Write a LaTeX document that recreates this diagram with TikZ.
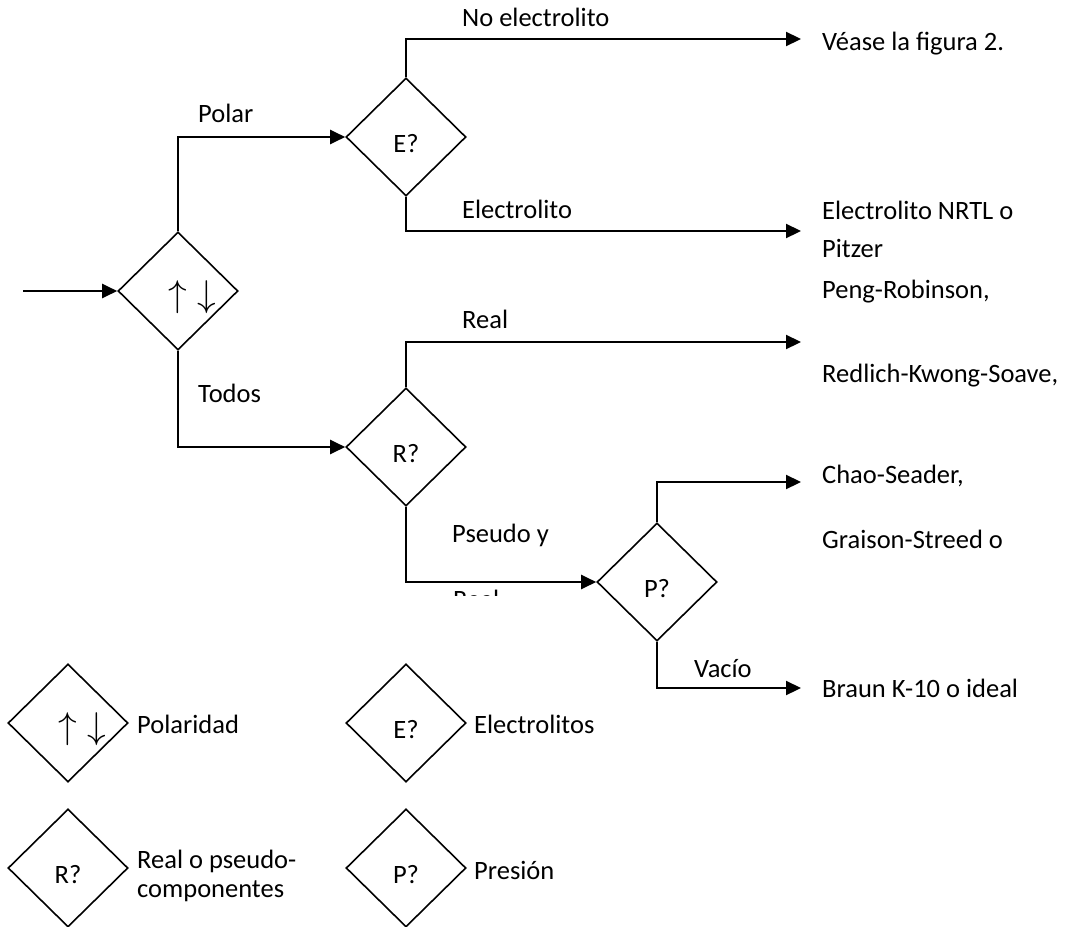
\documentclass[tikz,border=0pt]{standalone}
\usepackage{fontspec}
\setmainfont{Carlito}
\usetikzlibrary{shapes.geometric,arrows.meta}
\tikzset{
  dec/.style={diamond,draw,line width=1.6pt,minimum width=120pt,minimum height=118pt,inner sep=0pt},
  flow/.style={line width=2.2pt,-{Triangle[length=15pt,width=14pt]}},
  txt/.style={anchor=base west,inner sep=0pt},
  sym/.style={label={[xshift=14pt,yshift=-6pt]center:\scalebox{1.5}{$\uparrow\;\downarrow$}}},
  ask/.style={label={[yshift=-7pt]center:#1}}
}
\begin{document}
\begin{tikzpicture}[x=1pt,y=-1pt,font=\fontsize{26.5}{31}\selectfont]
\clip (0,0) rectangle (1065,926);
% decisiones
\node[dec,sym] (pol) at (178,291) {};
\node[dec,ask=E?] (elec) at (406,137) {};
\node[dec,ask=R?] (real) at (406,447) {};
\node[dec,ask=P?] (pres) at (657,582) {};
% extremos de las flechas
\coordinate (in) at (23,291);
\coordinate (e1) at (801,39);
\coordinate (e2) at (801,231);
\coordinate (e3) at (801,342);
\coordinate (e4) at (801,482);
\coordinate (e5) at (801,688);
\draw[flow] (in)--(pol.west);
\draw[flow] (pol.north) |- (elec.west);
\draw[flow] (pol.south) |- (real.west);
\draw[flow] (elec.north) |- (e1);
\draw[flow] (elec.south) |- (e2);
\draw[flow] (real.north) |- (e3);
\draw[flow] (real.south) |- (pres.west);
\draw[flow] (pres.north) |- (e4);
\draw[flow] (pres.south) |- (e5);
% etiquetas
\node[txt] (lpolar) at (198,122) {Polar};
\node[txt] (ltodos) at (198,402) {Todos};
\node[txt] (lnoel) at (462,26) {No electrolito};
\node[txt] (lel) at (462,218) {Electrolito};
\node[txt] (lreal) at (462,328) {Real};
\node[txt] (lpseudo) at (452,542) {Pseudo y};
\begin{scope}
\clip (440,586) rectangle (560,595);
\node[txt] (lpseudob) at (453,608) {Real};
\end{scope}
\node[txt] (lvacio) at (694,677) {Vacío};
% resultados
\node[txt] (r1) at (822,50) {Véase la figura 2.};
\node[txt] (r2) at (822,219) {Electrolito NRTL o};
\node[txt] (r2b) at (822,257) {Pitzer};
\node[txt] (r3) at (822,298) {Peng-Robinson,};
\node[txt] (r3b) at (822,382) {Redlich-Kwong-Soave,};
\node[txt] (r4) at (822,483) {Chao-Seader,};
\node[txt] (r4b) at (822,548) {Graison-Streed o};
\node[txt] (r5) at (822,697) {Braun K-10 o ideal};
% leyenda
\node[dec,sym] (kpol) at (68,723) {};
\node[txt] at (137,733) {Polaridad};
\node[dec,ask=E?] (kelec) at (406,723) {};
\node[txt] at (474,733) {Electrolitos};
\node[dec,ask=R?] (kreal) at (68,868) {};
\node[txt] at (137,868) {Real o pseudo-};
\node[txt] at (137,897) {componentes};
\node[dec,ask=P?] (kpres) at (406,868) {};
\node[txt] at (474,879) {Presión};
\end{tikzpicture}
\end{document}
